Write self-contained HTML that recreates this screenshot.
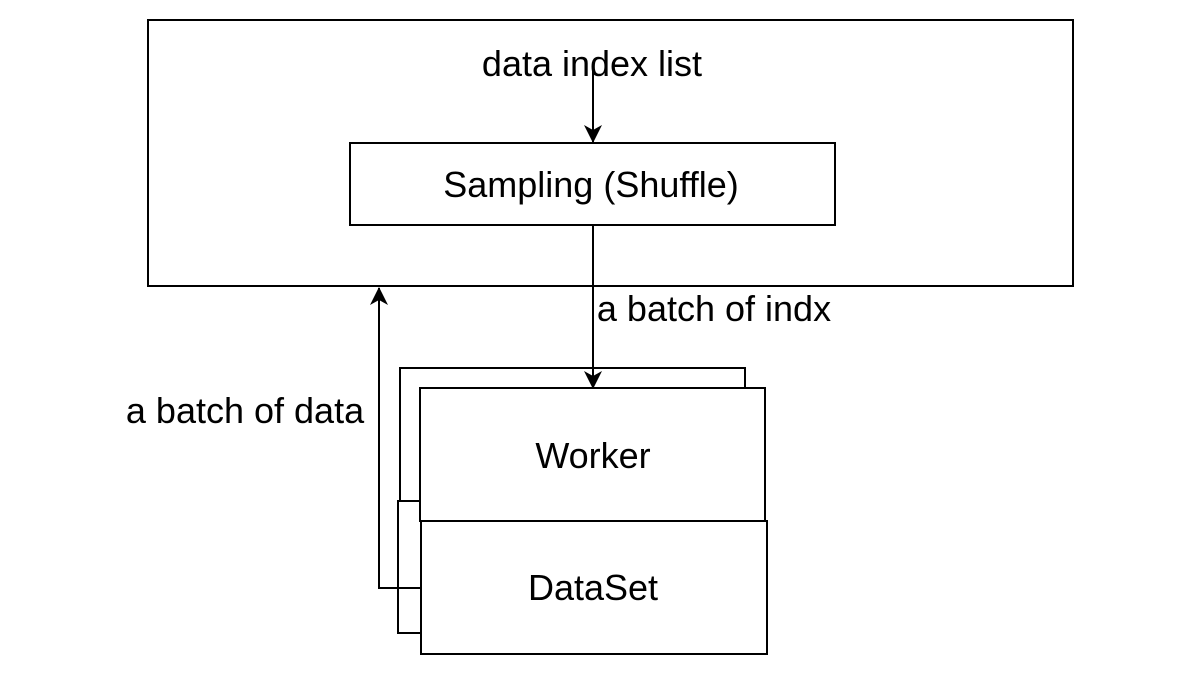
<!DOCTYPE html>
<html><head><style>body{margin:0;background:#fff}</style></head><body>
<svg width="1182" height="668" xmlns="http://www.w3.org/2000/svg" font-family="Liberation Sans, sans-serif">
<defs>
<marker id="b" markerWidth="20" markerHeight="20" refX="17" refY="9" orient="auto" markerUnits="userSpaceOnUse"><path d="M0,0 L18,9 L0,18 L5,9 Z" fill="#000"/></marker></defs>
<g fill="none" stroke="#000" stroke-width="2">
<rect x="148" y="20" width="925" height="266"/>
<rect x="350" y="143" width="485" height="82"/>
<line x1="593" y1="70" x2="593" y2="142" marker-end="url(#b)"/>
<rect x="400" y="368" width="345" height="133" fill="#fff"/>
<rect x="398" y="501" width="345" height="132" fill="#fff"/>
<polyline points="421,588 379,588 379,288" marker-end="url(#b)"/>
<rect x="420" y="388" width="345" height="133" fill="#fff"/>
<rect x="421" y="521" width="346" height="133" fill="#fff"/>
<line x1="593" y1="225" x2="593" y2="388" marker-end="url(#b)"/>
</g>
<g font-size="36" fill="#000" text-anchor="middle">
<text x="592" y="76">data index list</text>
<text x="591" y="197">Sampling (Shuffle)</text>
<text x="714" y="321">a batch of indx</text>
<text x="245" y="423">a batch of data</text>
<text x="593" y="468">Worker</text>
<text x="593" y="600">DataSet</text>
</g>
</svg>
</body></html>
